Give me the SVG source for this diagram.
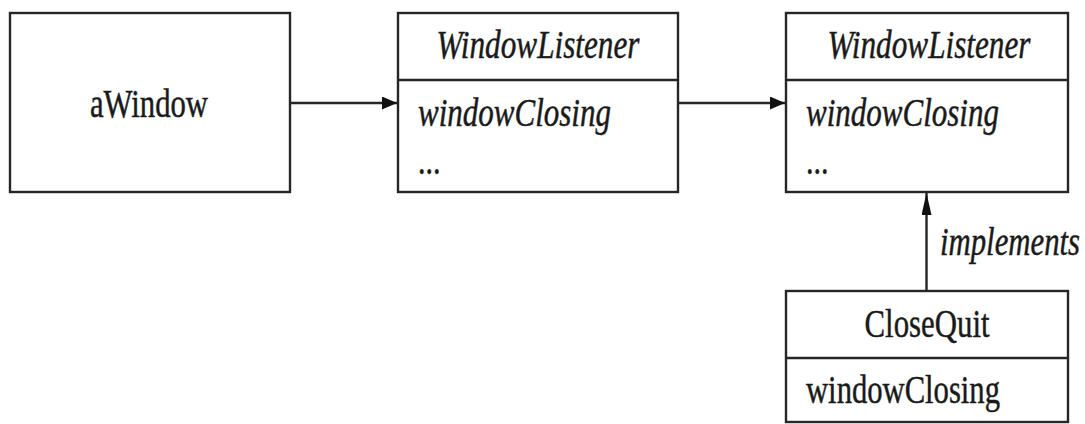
<svg xmlns="http://www.w3.org/2000/svg" width="1085" height="424" viewBox="0 0 1085 424">
<defs>
<style>
.box{fill:#fff;stroke:#262626;stroke-width:2.4}
.div{stroke:#262626;stroke-width:2.6}
.edge{stroke:#262626;stroke-width:2.4;fill:none}
.t{font-family:'Liberation Serif','DejaVu Serif',serif;font-size:30px;fill:#1a1a1a;stroke:#1a1a1a;stroke-width:0.35}
.it{font-style:italic}
</style>
<marker id="ah" markerUnits="userSpaceOnUse" markerWidth="16" markerHeight="14" refX="15" refY="6.5" orient="auto"><path d="M0,0 L15,6.5 L0,13 z" fill="#111"/></marker>
<marker id="av" markerUnits="userSpaceOnUse" markerWidth="23" markerHeight="11" refX="22" refY="5" orient="auto"><path d="M0,0 L22,5 L0,10 z" fill="#111"/></marker>
</defs>
<rect width="1085" height="424" fill="#fff"/>
<g id="connectors">
<line class="edge" x1="291" y1="103" x2="397" y2="103" marker-end="url(#ah)"/>
<line class="edge" x1="679" y1="103" x2="785" y2="103" marker-end="url(#ah)"/>
<line class="edge" x1="926.5" y1="291" x2="926.5" y2="193" marker-end="url(#av)"/>
<text class="t it" font-family="Liberation Serif, serif" transform="translate(940,255) scale(1,1.3)" textLength="140" lengthAdjust="spacingAndGlyphs">implements</text>
</g>
<g id="aWindow">
<rect class="box" x="10" y="13" width="280" height="179"/>
<text class="t" font-family="Liberation Serif, serif" transform="translate(149,117) scale(1,1.3)" text-anchor="middle" textLength="118" lengthAdjust="spacingAndGlyphs">aWindow</text>
</g>
<g id="listener1">
<rect class="box" x="398" y="13" width="280" height="179"/>
<line class="div" x1="398" y1="80" x2="678" y2="80"/>
<text class="t it" font-family="Liberation Serif, serif" transform="translate(538,58) scale(1,1.3)" text-anchor="middle" textLength="203" lengthAdjust="spacingAndGlyphs">WindowListener</text>
<text class="t it" font-family="Liberation Serif, serif" transform="translate(418,126) scale(1,1.3)" textLength="193" lengthAdjust="spacingAndGlyphs">windowClosing</text>
<text class="t" font-family="Liberation Serif, serif" transform="translate(418,174) scale(1,1.3)">...</text>
</g>
<g id="listener2">
<rect class="box" x="786" y="13" width="282" height="179"/>
<line class="div" x1="786" y1="80" x2="1068" y2="80"/>
<text class="t it" font-family="Liberation Serif, serif" transform="translate(929,58) scale(1,1.3)" text-anchor="middle" textLength="203" lengthAdjust="spacingAndGlyphs">WindowListener</text>
<text class="t it" font-family="Liberation Serif, serif" transform="translate(806,126) scale(1,1.3)" textLength="193" lengthAdjust="spacingAndGlyphs">windowClosing</text>
<text class="t" font-family="Liberation Serif, serif" transform="translate(806,174) scale(1,1.3)">...</text>
</g>
<g id="closeQuit">
<rect class="box" x="786" y="291" width="282" height="131"/>
<line class="div" x1="786" y1="358" x2="1068" y2="358"/>
<text class="t" font-family="Liberation Serif, serif" transform="translate(927,337) scale(1,1.3)" text-anchor="middle" textLength="125" lengthAdjust="spacingAndGlyphs">CloseQuit</text>
<text class="t" font-family="Liberation Serif, serif" transform="translate(806,403) scale(1,1.3)" textLength="194" lengthAdjust="spacingAndGlyphs">windowClosing</text>
</g>
</svg>
